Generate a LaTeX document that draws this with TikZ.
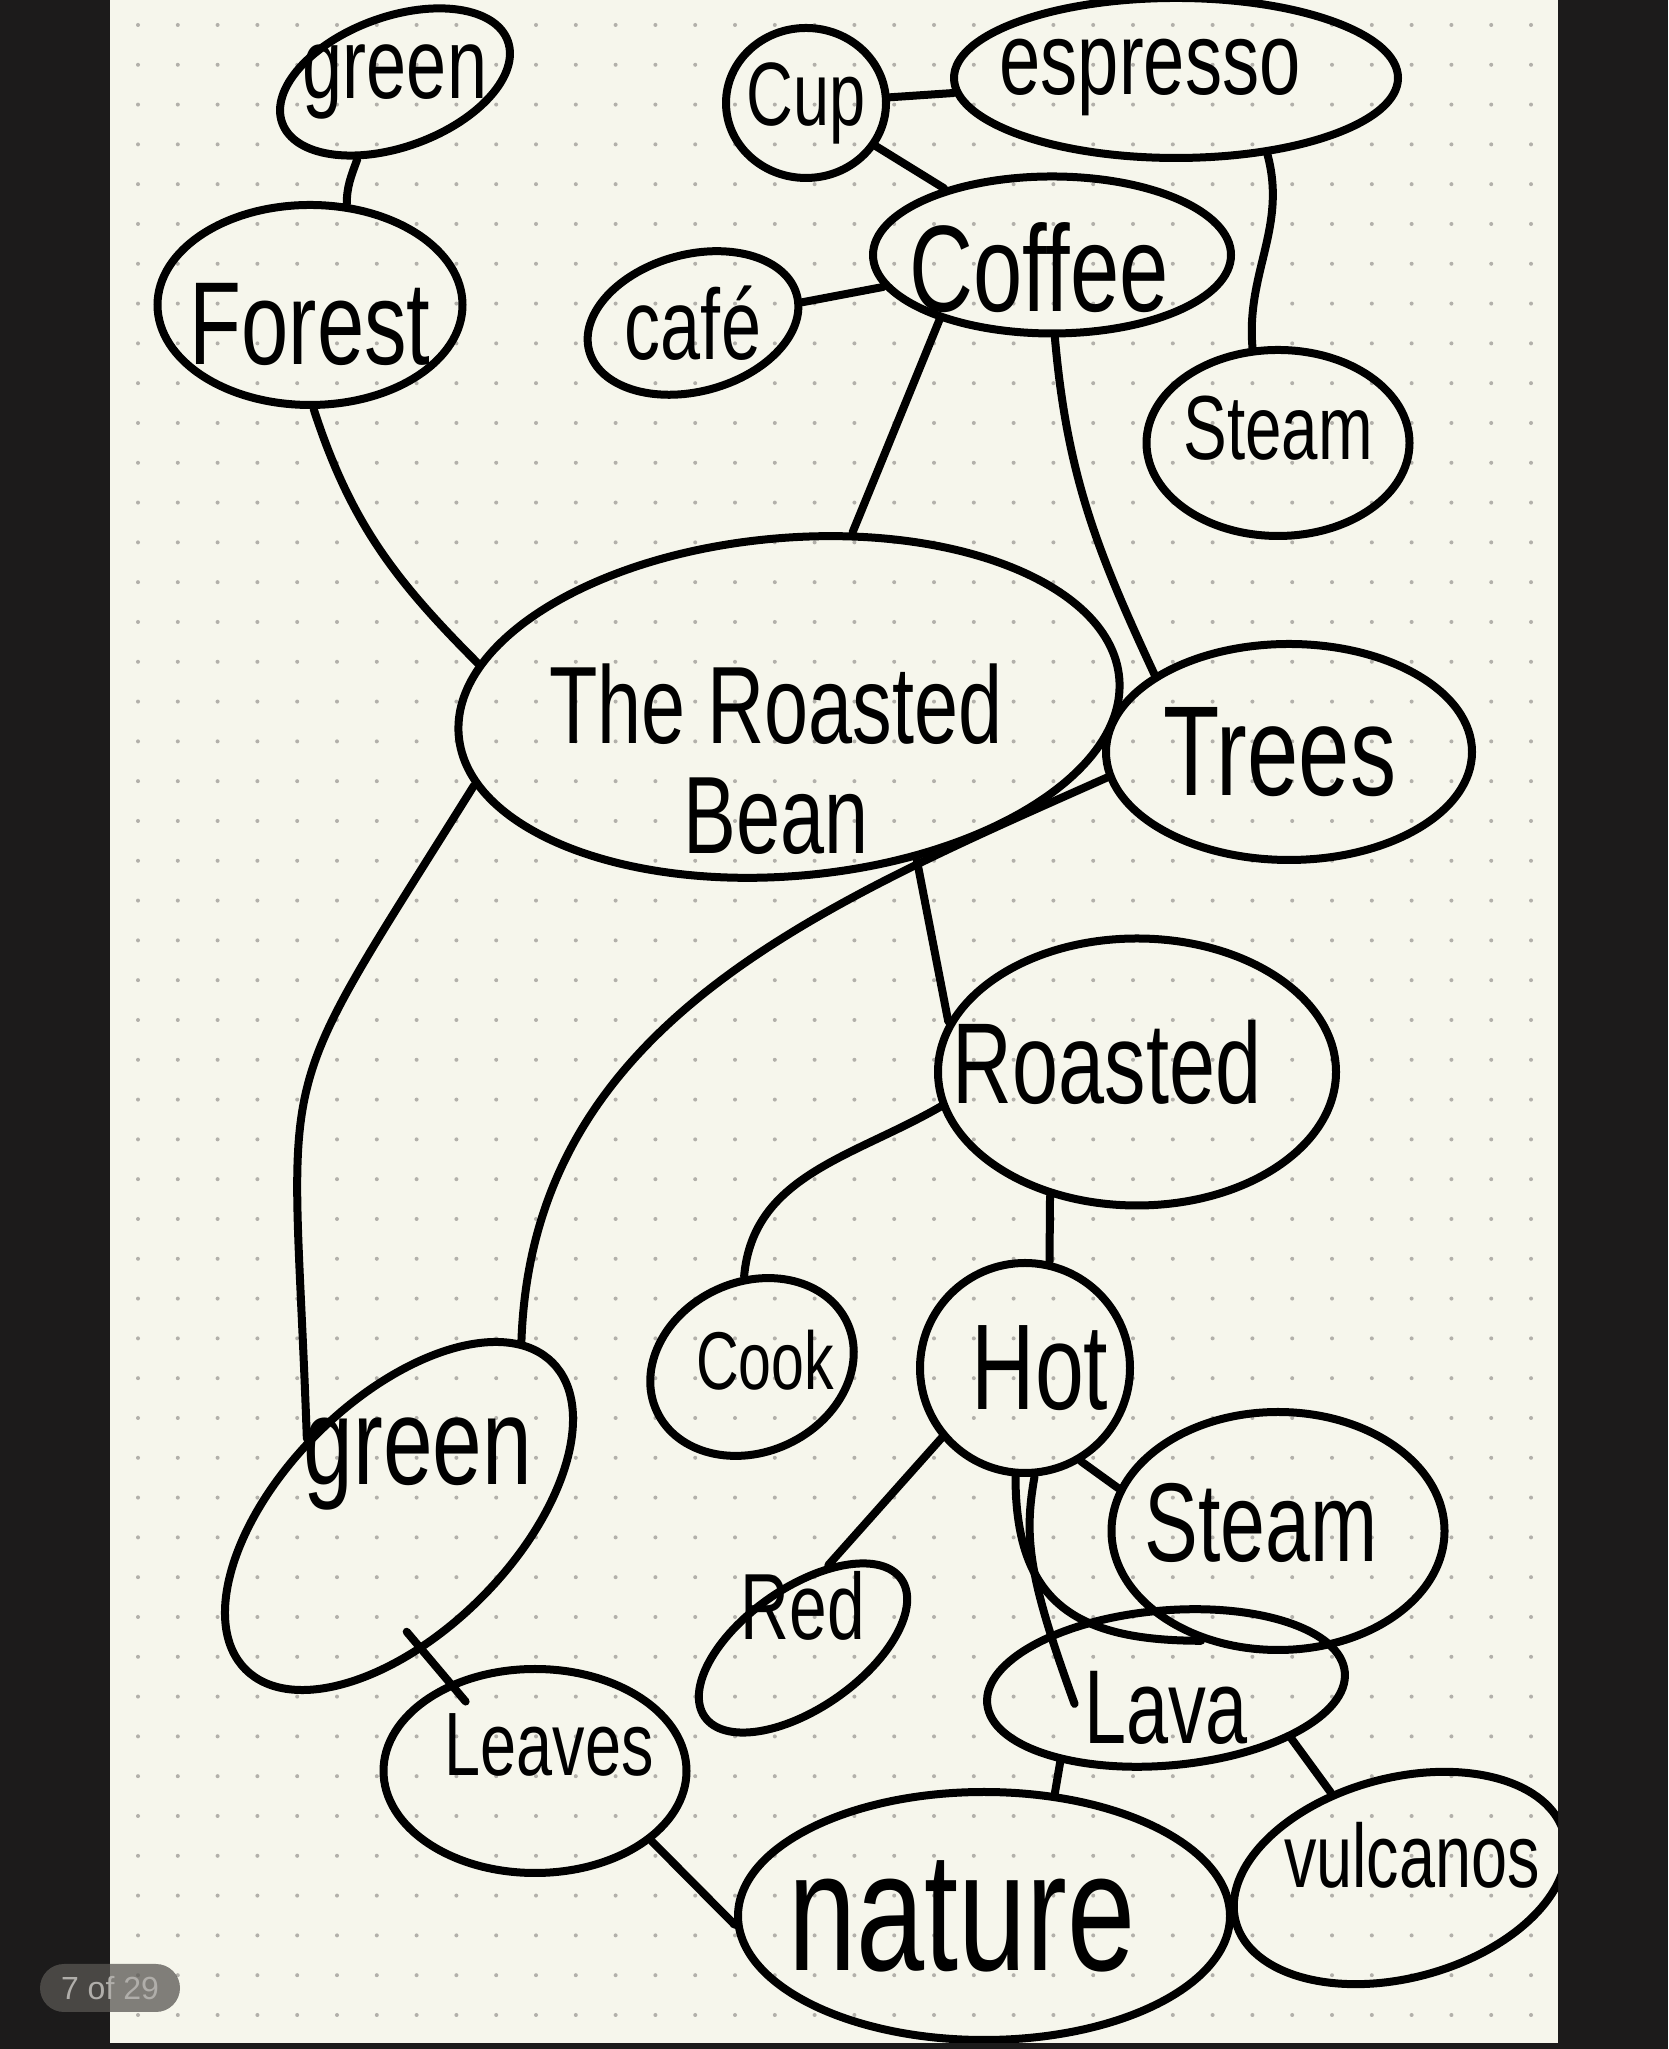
\documentclass[tikz,border=0pt]{standalone}
\usepackage{fontspec}
\usepackage{tikz}
\usetikzlibrary{shapes.geometric}
\newfontfamily\handfont[FakeStretch=0.72]{Liberation Sans}
\newfontfamily\uifont{Liberation Sans}
\definecolor{desk}{RGB}{28,27,27}
\definecolor{paper}{RGB}{246,246,236}
\definecolor{dotgray}{RGB}{178,176,170}
\definecolor{pillgray}{RGB}{89,87,83}
\definecolor{pilltext}{RGB}{176,174,170}
\tikzset
{
  idea/.style 2 args={draw,ellipse,line width=8pt,minimum width=#1pt,minimum height=#2pt,inner sep=0pt},
  hand/.style={font=\handfont\fontsize{#1}{#1}\selectfont,inner sep=0pt,align=center},
  link/.style={draw,line width=8pt,line cap=round}
}

\begin{document}
\begin{tikzpicture}[x=1pt,y=1pt]
    % Page and paper
    \useasboundingbox (0,0) rectangle (1668,2049);
    \fill[desk] (0,0) rectangle (1668,2049);
    \fill[paper] (110,6) rectangle (1558,2049);

    % Dot grid
    \foreach \i in {0,...,35}
      \foreach \j in {0,...,50}
        \fill[dotgray] (138+39.8*\i,2024-39.8*\j) circle[radius=2pt];

    \begin{scope}
        \clip (110,6) rectangle (1558,2049);

        % Ideas
        \node[idea={240}{130},rotate=20,label={[hand=100,name=greenT-t]center:green}] (greenT) at (395,1967) {};
        \node[idea={305}{200},label={[hand=118,yshift=-20,name=forest-t]center:Forest}] (forest) at (310,1744) {};
        \node[idea={160}{150},label={[hand=90,name=cup-t]center:Cup}] (cup) at (806,1946) {};
        \node[idea={444}{160},label={[hand=103,xshift=-26,name=espresso-t]center:espresso}] (espresso) at (1176,1971) {};
        \node[idea={215}{137},rotate=15,label={[hand=100,name=cafe-t]center:café}] (cafe) at (693,1726) {};
        \node[idea={358}{157},label={[hand=123,xshift=-13,yshift=-13,name=coffee-t]center:Coffee}] (coffee) at (1052,1794) {};
        \node[idea={263}{186},label={[hand=91,yshift=15,name=steamT-t]center:Steam}] (steamT) at (1278,1606) {};
        \node[idea={663}{338},rotate=5,label={[hand=110,xshift=-13,yshift=-52,name=bean-t]center:{The Roasted\\Bean}}] (bean) at (789,1342) {};
        \node[idea={366}{216},label={[hand=128,xshift=-9,name=trees-t]center:Trees}] (trees) at (1289,1297) {};
        \node[idea={398}{267},label={[hand=115,xshift=-30,yshift=10,name=roasted-t]center:Roasted}] (roasted) at (1137,977) {};
        \node[idea={210}{170},rotate=25,label={[hand=82,xshift=13,yshift=7,name=cook-t]center:Cook}] (cook) at (752,682) {};
        \node[idea={210}{210},label={[hand=122,xshift=15,name=hot-t]center:Hot}] (hot) at (1025,681) {};
        \node[idea={434}{232},rotate=45,label={[hand=124,xshift=19,yshift=52,name=greenB-t]center:green}] (greenB) at (399,533) {};
        \node[idea={333}{238},label={[hand=112,xshift=-17,yshift=8,name=steamB-t]center:Steam}] (steamB) at (1278,518) {};
        \node[idea={240}{120},rotate=35,label={[hand=94,yshift=42,name=red-t]center:Red}] (red) at (803,401) {};
        \node[idea={303}{204},label={[hand=90,xshift=14,yshift=26,name=leaves-t]center:Leaves}] (leaves) at (535,278) {};
        \node[idea={359}{155},rotate=5,label={[hand=105,yshift=-20,name=lava-t]center:Lava}] (lava) at (1166,361) {};
        \node[idea={492}{248},label={[hand=170,xshift=-22,name=nature-t]center:nature}] (nature) at (984,133) {};
        \node[idea={340}{200},rotate=15,label={[hand=90,xshift=12,yshift=23,name=vulcanos-t]center:vulcanos}] (vulcanos) at (1400,171) {};

        % Links
        \draw[link] (greenT.-136) to[out=-110,in=90] (forest.70);
        \draw[link] (cup) -- (espresso);
        \draw[link] (cup) -- (coffee);
        \draw[link] (cafe) -- (coffee);
        \draw[link] (espresso.-40) to[out=-75,in=95] (steamT.105);
        \draw[link] (forest.-88) to[out=-72,in=135] (bean.167);
        \draw[link] (coffee.-150) -- (bean.65);
        \draw[link] (coffee.-88) to[out=-85,in=115] (trees.150);
        \draw[link] (bean.-171) to[out=-122,in=92,looseness=1.5] (greenB.95);
        \draw[link] (trees.-172) to[out=-156,in=88] (greenB.10);
        \draw[link] (bean.-55) -- (roasted.165);
        \draw[link] (roasted.-170) to[out=-150,in=85] (cook.70);
        \draw[link] (roasted.-125) -- (hot.77);
        \draw[link] (hot.-140) -- (red.38);
        \draw[link] (hot.-59) -- (steamB.165);
        \draw[link] (hot.-95) to[out=-90,in=180,looseness=1.3] (steamB.-125);
        \draw[link,shorten >=-75pt] (hot.-85) to[out=-100,in=110] (lava.150);
        \draw[link,shorten <=-25pt,shorten >=-25pt] (greenB.-125) -- (leaves.134);
        \draw[link] (leaves.-31) -- (nature.182);
        \draw[link] (lava.-150) -- (nature.60);
        \draw[link] (lava.-27) -- (vulcanos.114);
    \end{scope}

    % Page counter
    \node[fill=pillgray,fill opacity=0.75,text opacity=1,text=pilltext,rounded corners=24pt,
          minimum width=140pt,minimum height=48pt,inner sep=0pt,
          font=\uifont\fontsize{32}{32}\selectfont] (pager) at (110,61) {7 of 29};
\end{tikzpicture}
\end{document}
